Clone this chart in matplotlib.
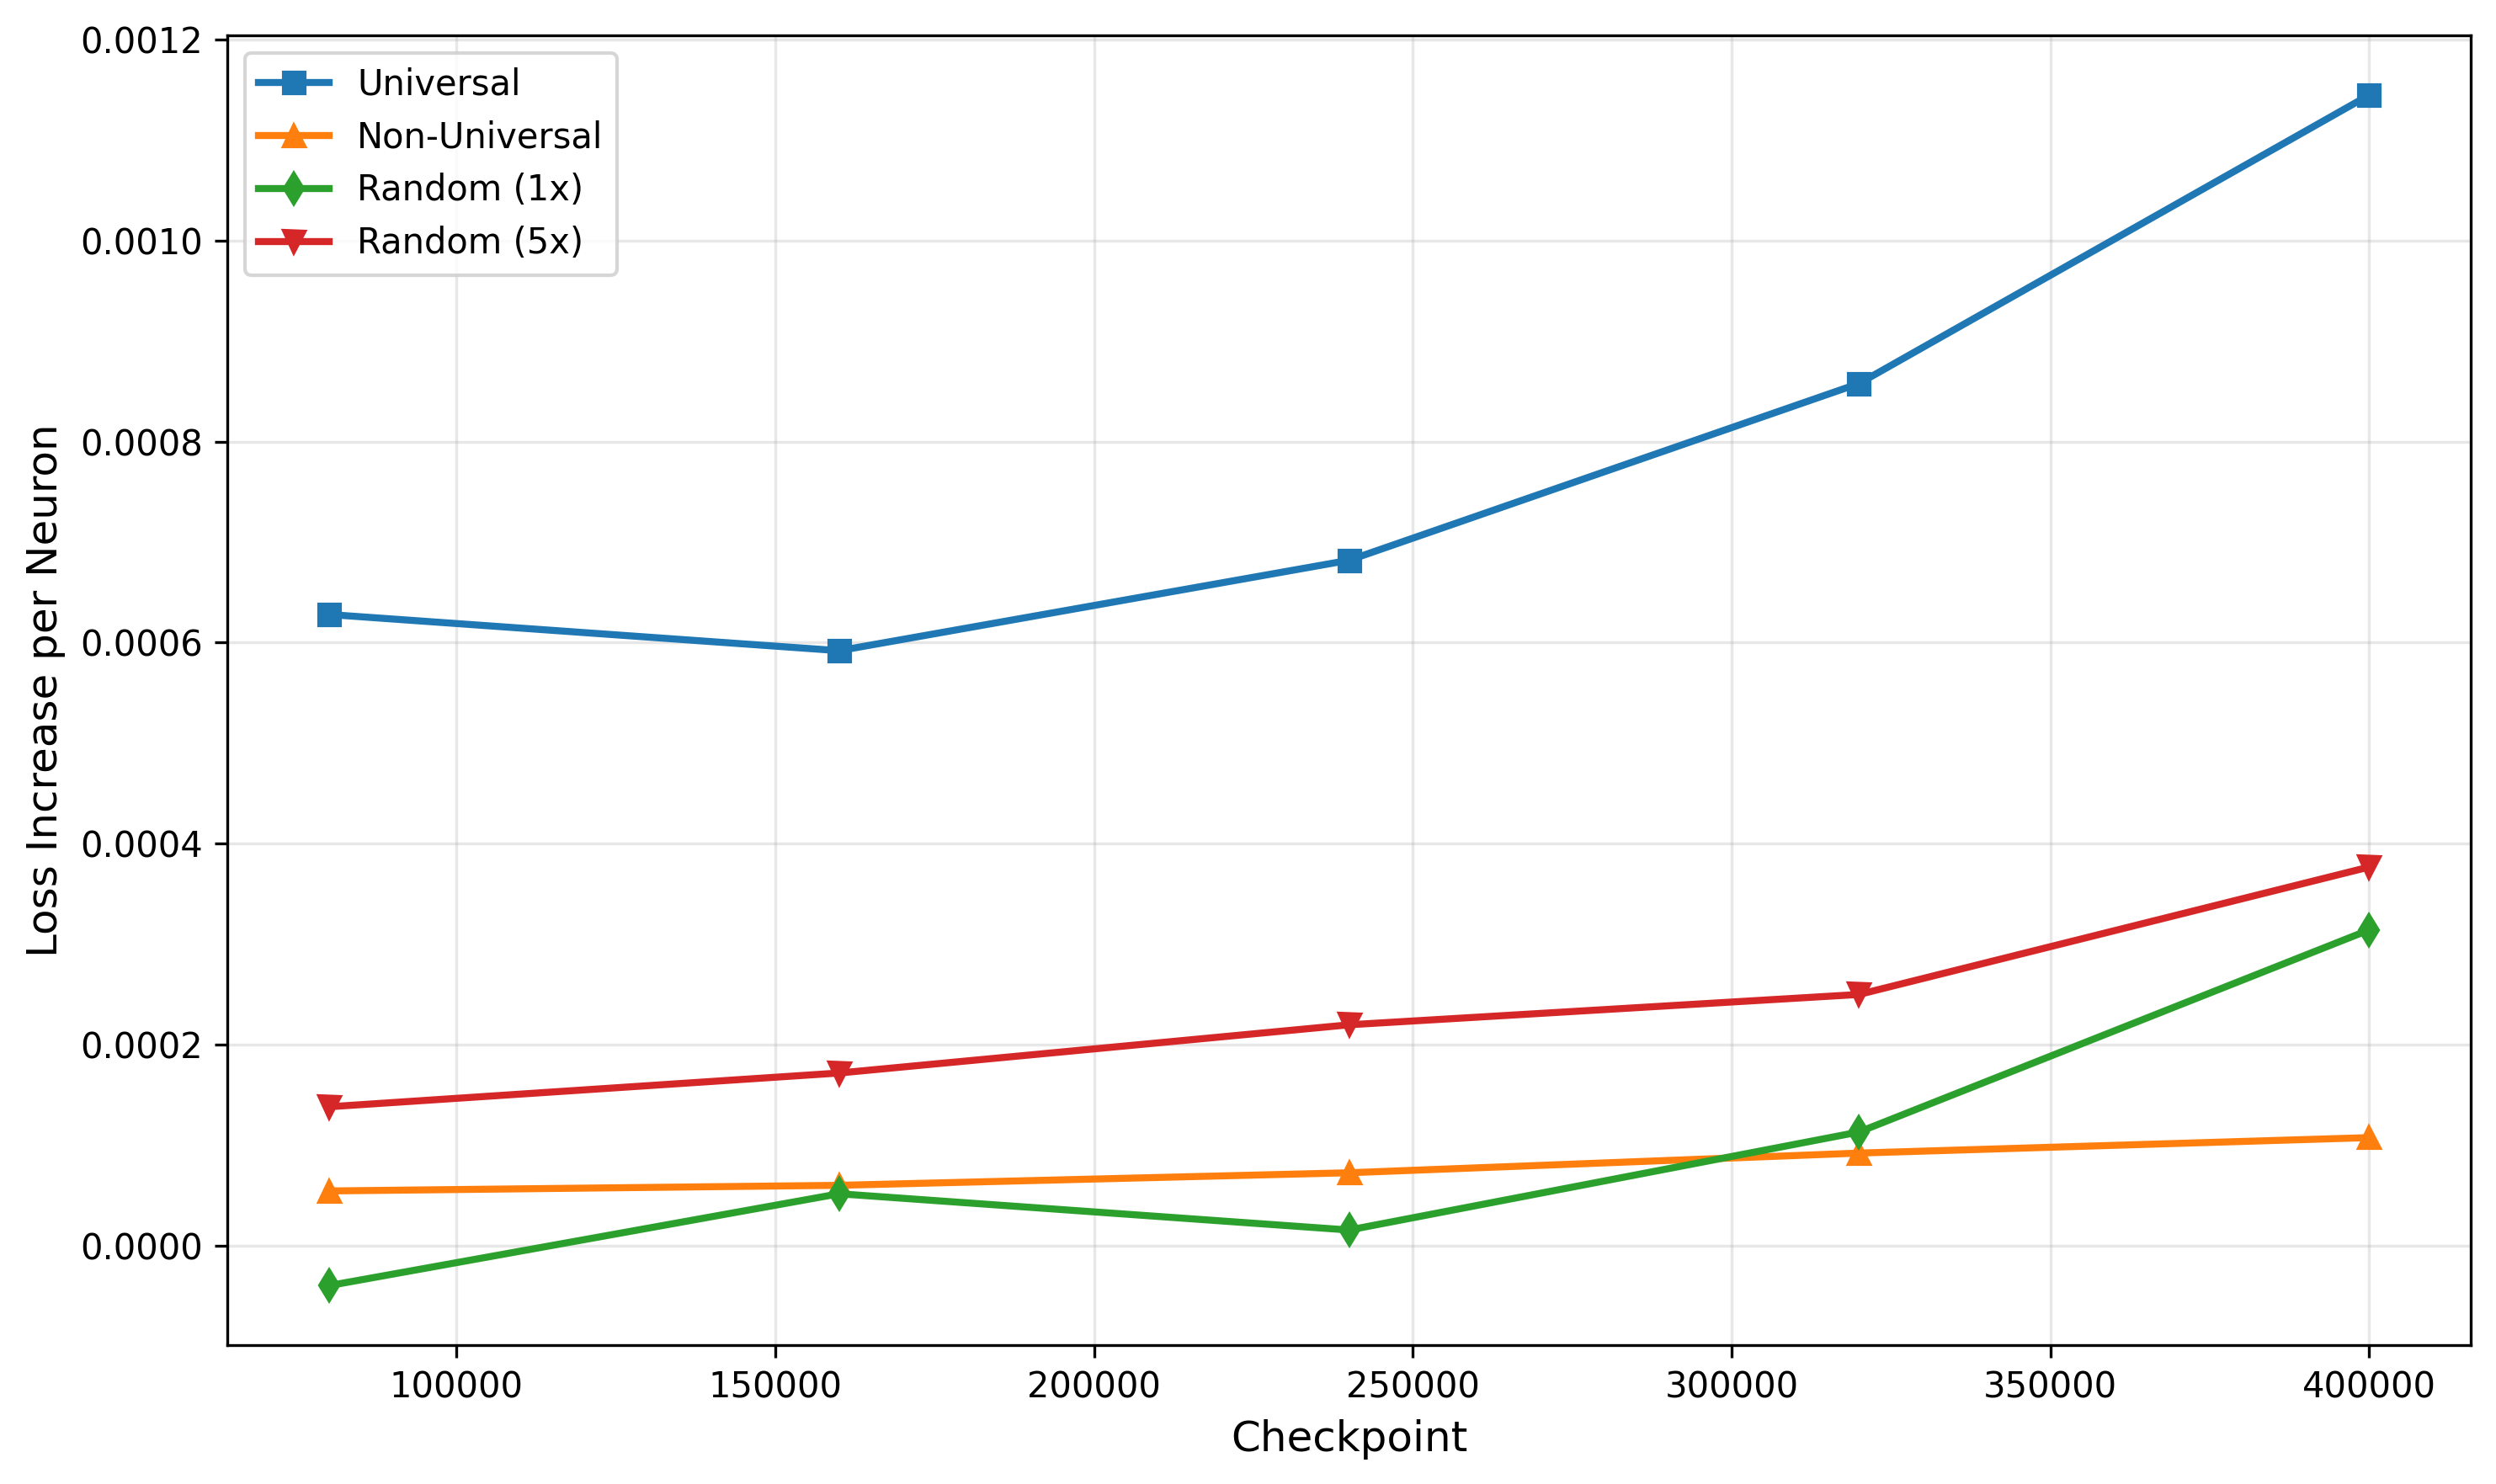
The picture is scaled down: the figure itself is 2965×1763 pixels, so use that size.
import matplotlib
matplotlib.use("Agg")
import matplotlib.pyplot as plt

checkpoints = [80000, 160000, 240000, 320000, 400000]
universal = [0.000628, 0.000592, 0.000682, 0.000858, 0.001145]
non_universal = [0.0000542, 0.0000598, 0.0000723, 0.0000919, 0.0001073]
random_1x = [-0.0000400, 0.0000514, 0.0000153, 0.0001129, 0.000314]
random_5x = [0.000138, 0.0001716, 0.0002196, 0.0002498, 0.0003766]

fig, ax = plt.subplots(figsize=(2965 / 300, 1763 / 300), dpi=300)
fig.subplots_adjust(left=0.091, right=0.990, top=0.976, bottom=0.0936)

ax.plot(checkpoints, universal, marker='s', linewidth=2, markersize=6, label='Universal')
ax.plot(checkpoints, non_universal, marker='^', linewidth=2, markersize=6, label='Non-Universal')
ax.plot(checkpoints, random_1x, marker='d', linewidth=2, markersize=6, label='Random (1x)')
ax.plot(checkpoints, random_5x, marker='v', linewidth=2, markersize=6, label='Random (5x)')

ax.set_xlabel('Checkpoint', fontsize=12)
ax.set_ylabel('Loss Increase per Neuron', fontsize=12)
ax.grid(True, alpha=0.3)
ax.legend(loc='upper left')

fig.savefig('out.png', dpi=300)
